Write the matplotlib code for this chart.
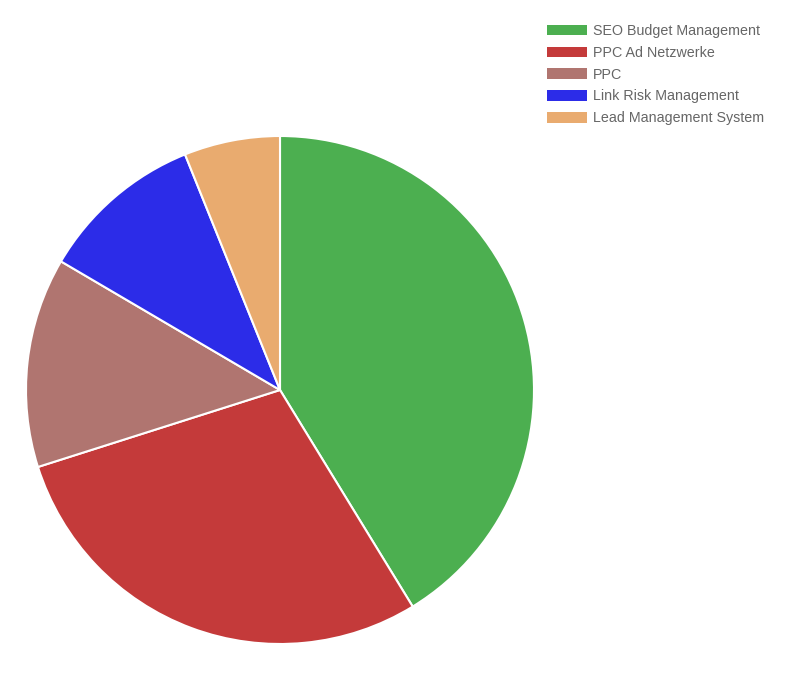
import matplotlib.pyplot as plt

labels = ['SEO Budget Management', 'PPC Ad Netzwerke', 'PPC',
          'Link Risk Management', 'Lead Management System']
values = [41.25, 28.85, 13.35, 10.45, 6.1]
colors = ['#4caf50', '#c43a3a', '#b07570', '#2c2ce8', '#e9ab6f']

plt.rcParams['font.family'] = ['Liberation Sans', 'DejaVu Sans']

W, H = 804, 675
fig = plt.figure(figsize=(W / 100, H / 100), dpi=100)

# pie centre and radius in pixels
cx, cy, r = 280, 390, 254
ax = fig.add_axes([(cx - r) / W, (H - cy - r) / H, 2 * r / W, 2 * r / H])
wedges, _ = ax.pie(values, colors=colors, startangle=90, counterclock=False,
                   radius=1, wedgeprops=dict(edgecolor='white', linewidth=1.5))
ax.set_xlim(-1, 1)
ax.set_ylim(-1, 1)
ax.axis('off')

leg = fig.legend(wedges, labels, loc='upper left',
                 bbox_to_anchor=(547 / W, 1 - 24 / H),
                 frameon=False, fontsize=10.25, handlelength=2.8,
                 handleheight=0.78, labelspacing=0.55, handletextpad=0.42,
                 borderpad=0, borderaxespad=0)
for t in leg.get_texts():
    t.set_color('#666666')
for h in leg.legend_handles:
    h.set_edgecolor('none')

fig.savefig('out.png', dpi=100)
